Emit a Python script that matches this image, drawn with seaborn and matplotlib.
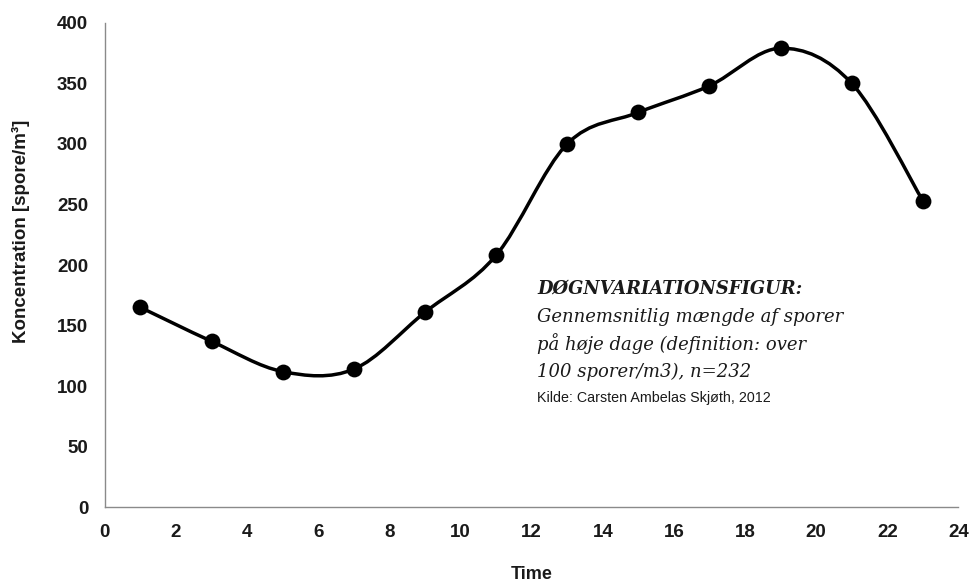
import numpy as np
import pandas as pd
import matplotlib
matplotlib.use("Agg")
import matplotlib.pyplot as plt
from matplotlib.path import Path
from matplotlib.patches import PathPatch
import seaborn as sns

hours = [1, 3, 5, 7, 9, 11, 13, 15, 17, 19, 21, 23]
concentration = [165, 137, 112, 114, 161, 208, 300, 326, 348, 379, 350, 253]
x_ticks = list(range(0, 25, 2))
y_ticks = list(range(0, 401, 50))

sns.set_theme(style="white")
plt.rcParams['font.family'] = ['Liberation Sans', 'DejaVu Sans']

df = pd.DataFrame({"Time": hours, "Koncentration": concentration})

fig = plt.figure(figsize=(9.8, 5.85), dpi=100)
ax = fig.add_axes([0.107, 0.133, 0.871, 0.828])

# Smoothed line (Excel-style Bezier spline) built from the data
P = np.column_stack([hours, concentration]).astype(float)
n = len(P)
verts = [P[0]]
codes = [Path.MOVETO]
for i in range(n - 1):
    p_prev = P[i - 1] if i > 0 else P[i]
    p_next2 = P[i + 2] if i + 2 < n else P[i + 1]
    c1 = P[i] + (P[i + 1] - p_prev) / 6.0
    c2 = P[i + 1] - (p_next2 - P[i]) / 6.0
    verts += [c1, c2, P[i + 1]]
    codes += [Path.CURVE4] * 3
ax.add_patch(PathPatch(Path(verts, codes), facecolor="none", edgecolor="black",
                       lw=2.5, zorder=2, capstyle="round", joinstyle="round"))

sns.scatterplot(data=df, x="Time", y="Koncentration", ax=ax, color="black",
                s=130, edgecolor="black", linewidth=0, zorder=3)

ax.set_xlim(0, 24)
ax.set_ylim(0, 400)
ax.set_xticks(x_ticks)
ax.set_yticks(y_ticks)
for s in ["top", "right"]:
    ax.spines[s].set_visible(False)
for s in ["left", "bottom"]:
    ax.spines[s].set_color("#8a8a8a")
    ax.spines[s].set_linewidth(1.0)
ax.tick_params(axis="both", which="major", length=5, width=1.0, color="#8a8a8a",
               direction="out", labelsize=13.5, labelcolor="#1a1a1a")
ax.tick_params(axis="y", pad=7)
ax.tick_params(axis="x", pad=7)
for lab in ax.get_xticklabels() + ax.get_yticklabels():
    lab.set_fontweight("bold")

ax.set_xlabel("Time", fontsize=13, fontweight="bold", color="#1a1a1a", labelpad=18)
ax.set_ylabel("Koncentration [spore/m³]", fontsize=13.5, fontweight="bold",
              color="#1a1a1a")
ax.yaxis.set_label_coords(-0.088, 0.57)

serif = ['DejaVu Serif']
fig.text(537 / 980, 1 - 294 / 585, "DØGNVARIATIONSFIGUR:", family=serif, style="italic",
         fontweight="bold", fontsize=12.9, color="#1a1a1a", ha="left", va="baseline")
lines = ["Gennemsnitlig mængde af sporer",
         "på høje dage (definition: over",
         "100 sporer/m3), n=232"]
for k, t in enumerate(lines):
    fig.text(537 / 980, 1 - (322 + 27.5 * k) / 585, t, family=serif, style="italic",
             fontsize=13, color="#1a1a1a", ha="left", va="baseline")
fig.text(537 / 980, 1 - 402 / 585, "Kilde: Carsten Ambelas Skjøth, 2012",
         family=['Liberation Sans'], fontsize=10.3,
         color="#1a1a1a", ha="left", va="baseline")

fig.savefig("out.png", dpi=100, facecolor="white")
